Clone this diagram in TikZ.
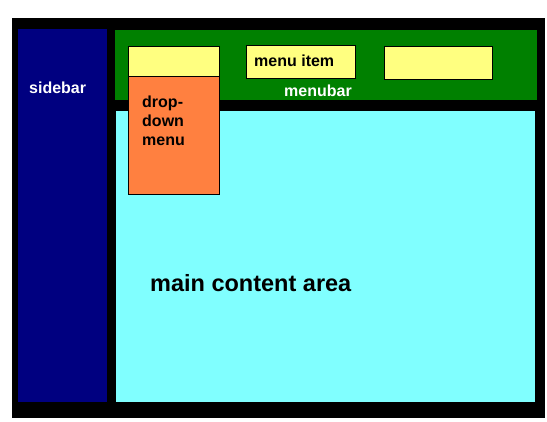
\documentclass[tikz,border=0pt]{standalone}
\usepackage{fontspec}
\setmainfont{Liberation Sans}
\definecolor{navy}{RGB}{0,0,128}
\definecolor{mgreen}{RGB}{0,128,0}
\definecolor{mcyan}{RGB}{128,255,255}
\definecolor{myellow}{RGB}{255,255,128}
\definecolor{morange}{RGB}{255,128,64}
\tikzset{
  itembox/.style={draw=black, line width=1pt, fill=myellow},
  lbl/.style={font=\bfseries\fontsize{16}{19}\selectfont, inner sep=0pt}
}
\begin{document}
\begin{tikzpicture}[x=1pt,y=-1pt]
\useasboundingbox (0,0) rectangle (547,421);
\fill[white] (0,0) rectangle (547,421);
\fill[black] (12,18) rectangle (545,418);
\fill[navy] (18,29) rectangle (107,402);
\fill[mgreen] (115,30) rectangle (537,100);
\fill[mcyan] (116,111) rectangle (535,402);
\node[lbl, text=white, anchor=base west] (sidebar) at (29,93) {sidebar};
\node[lbl, text=white, anchor=base west] (menubar) at (284,96) {menubar};
\draw[itembox] (128,46) rectangle (219,76);
\draw[itembox, fill=morange] (128,76) rectangle (219,194);
\draw[itembox] (246,45) rectangle (355,78);
\draw[itembox] (384,46) rectangle (492,79);
\node[lbl, anchor=base west] (item) at (254,66) {menu item};
\node[lbl, anchor=base west, align=left, font=\bfseries\fontsize{16}{19}\selectfont] (drop) at (142,145) {drop-\\down\\menu};
\node[lbl, anchor=base west, font=\bfseries\fontsize{23.5}{27}\selectfont] (main) at (150,291) {main content area};
\end{tikzpicture}
\end{document}
